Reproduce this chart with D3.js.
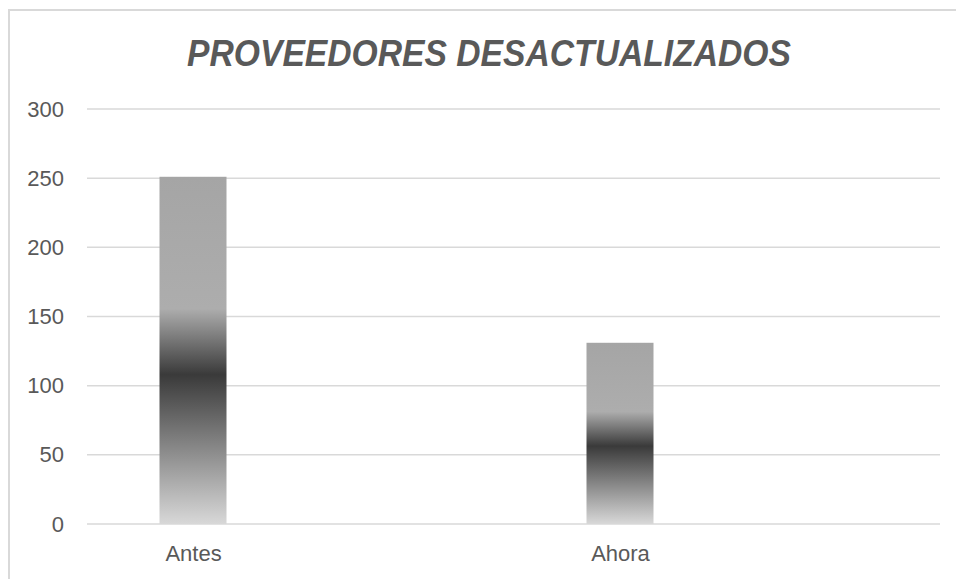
<!DOCTYPE html>
<html lang="es">
<head>
<meta charset="UTF-8">
<title>Proveedores desactualizados</title>
<style>
  html, body {
    margin: 0;
    padding: 0;
    background: #ffffff;
    font-family: 'Liberation Sans', Arial, sans-serif;
  }
  .grid line { stroke: #d9d9d9; stroke-width: 1.5px; }
  .tick text { fill: #595959; font-size: 22px; }
</style>
</head>
<body>
<div id="chart"></div>
<script src="https://d3js.org/d3.v7.min.js"></script>
<script>
// data
var categories = ["Antes", "Ahora"];
var values = [251, 131];
var yTicks = [0, 50, 100, 150, 200, 250, 300];
var chartTitle = "PROVEEDORES DESACTUALIZADOS";

var width = 956, height = 579;

var svg = d3.select("#chart").append("svg")
    .attr("width", width)
    .attr("height", height);

// gradient used for the bars (light top, dark band, light bottom)
var defs = svg.append("defs");
var grad = defs.append("linearGradient")
    .attr("id", "barGrad")
    .attr("x1", 0).attr("y1", 0)
    .attr("x2", 0).attr("y2", 1);
grad.append("stop").attr("offset", "0").attr("stop-color", "#a5a5a5");
grad.append("stop").attr("offset", "0.38").attr("stop-color", "#adadad");
grad.append("stop").attr("offset", "0.57").attr("stop-color", "#3a3a3a");
grad.append("stop").attr("offset", "1").attr("stop-color", "#d8d8d8");

// chart frame
svg.append("path")
    .attr("d", "M9,579 V10 H956")
    .attr("fill", "none")
    .attr("stroke", "#d9d9d9")
    .attr("stroke-width", 2);

// scales
var y = d3.scaleLinear()
    .domain([0, 300])
    .range([524, 109]);

var x = d3.scalePoint()
    .domain(categories)
    .range([193, 620]);

var barWidth = 67;
var gridLeft = 87, gridRight = 940;

// gridlines
svg.append("g")
    .attr("class", "grid")
    .selectAll("line")
    .data(yTicks)
    .enter()
    .append("line")
    .attr("x1", gridLeft)
    .attr("x2", gridRight)
    .attr("y1", function(d){ return y(d); })
    .attr("y2", function(d){ return y(d); });

// y axis labels
var yAxis = d3.axisLeft(y)
    .tickValues(yTicks)
    .tickSize(0)
    .tickPadding(0);

svg.append("g")
    .attr("transform", "translate(64,0)")
    .call(yAxis)
    .call(function(g){ g.select(".domain").remove(); })
    .selectAll("text")
    .attr("font-family", "'Liberation Sans', Arial, sans-serif");

// bars
svg.selectAll(".bar")
    .data(values)
    .enter()
    .append("rect")
    .attr("class", "bar")
    .attr("x", function(d, i){ return x(categories[i]) - barWidth / 2; })
    .attr("y", function(d){ return y(d); })
    .attr("width", barWidth)
    .attr("height", function(d){ return y(0) - y(d); })
    .attr("fill", "url(#barGrad)");

// category labels
var xAxis = d3.axisBottom(x)
    .tickSize(0)
    .tickPadding(0);

svg.append("g")
    .attr("transform", "translate(0,541)")
    .call(xAxis)
    .call(function(g){ g.select(".domain").remove(); })
    .selectAll("text")
    .attr("dy", "0.9em")
    .attr("font-family", "'Liberation Sans', Arial, sans-serif");

// title
svg.append("text")
    .attr("x", 489)
    .attr("y", 66)
    .attr("text-anchor", "middle")
    .attr("fill", "#595959")
    .attr("font-size", 36)
    .attr("font-weight", "bold")
    .attr("font-style", "italic")
    .attr("textLength", 604)
    .attr("lengthAdjust", "spacingAndGlyphs")
    .text(chartTitle);
</script>
</body>
</html>
